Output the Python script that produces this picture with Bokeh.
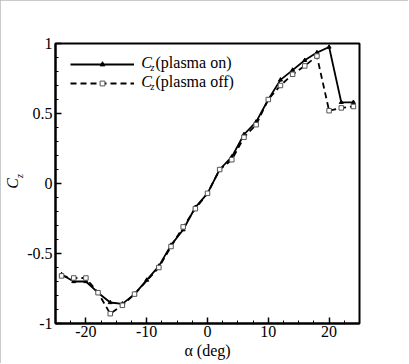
import numpy as np
from bokeh.plotting import figure
from bokeh.models import Legend, LegendItem, Label, FixedTicker, Range1d, LinearAxis
from bokeh.embed import file_html
from bokeh.resources import INLINE

# ---- data ----
alpha_on = [-24, -22, -20, -18, -16, -14, -12, -10, -8, -6, -4, -2, 0, 2, 4, 6, 8, 10, 12, 14, 16, 18, 20, 22, 24]
cz_on = [-0.65, -0.70, -0.70, -0.78, -0.85, -0.86, -0.79, -0.69, -0.59, -0.44, -0.33, -0.17, -0.07,
         0.10, 0.19, 0.35, 0.44, 0.60, 0.74, 0.81, 0.88, 0.935, 0.975, 0.58, 0.58]
alpha_off = [-24, -22, -20, -18, -16, -14, -12, -8, -6, -4, -2, 0, 2, 4, 6, 8, 10, 12, 14, 16, 18, 20, 22, 24]
cz_off = [-0.66, -0.675, -0.675, -0.78, -0.93, -0.87, -0.79, -0.60, -0.45, -0.31, -0.18, -0.07,
          0.10, 0.17, 0.33, 0.42, 0.60, 0.70, 0.78, 0.84, 0.91, 0.52, 0.54, 0.55]

x_ticks = [-20, -10, 0, 10, 20]
x_tick_labels = ["-20", "-10", "0", "10", "20"]
y_ticks = [-1, -0.5, 0, 0.5, 1]
y_tick_labels = ["-1", "-0.5", "0", "0.5", "1"]
legend_names = ["(plasma on)", "(plasma off)"]

FONT = "Liberation Serif"

p = figure(width=408, height=363, output_backend="svg", toolbar_location=None,
           x_range=Range1d(-25, 25), y_range=Range1d(-1, 1), y_axis_location=None,
           min_border_left=55, min_border_right=49, min_border_top=43, min_border_bottom=40)
p.styles = {"outline": "2px solid #b8b8b8", "outline-offset": "-2px"}
p.grid.visible = False
p.outline_line_color = "black"
p.outline_line_width = 2
p.outline_line_alpha = 1
p.background_fill_color = "white"
p.border_fill_color = "white"

r_on = p.line(alpha_on, cz_on, line_color="black", line_width=1.8)
m_on = p.scatter(alpha_on, cz_on, marker="triangle", size=4, fill_color="black", line_color="black")
r_off = p.line(alpha_off, cz_off, line_color="black", line_width=1.8, line_dash="6 4")
m_off = p.scatter(alpha_off, cz_off, marker="square", size=4.5, fill_color="white", line_color="#555555")

# left axes: main axis (ticks + subscript "z"), outer axis carrying "C"
yax = LinearAxis(ticker=FixedTicker(ticks=y_ticks, minor_ticks=list(np.round(np.arange(-1, 1.001, 0.1), 2))),
                 major_label_overrides={t: s for t, s in zip(y_ticks, y_tick_labels)})
p.add_layout(yax, "left")
cax = LinearAxis(ticker=FixedTicker(ticks=[]), major_label_text_font_size="0px",
                 axis_line_color=None, major_tick_line_color=None, minor_tick_line_color=None)
p.add_layout(cax, "left")

xax = p.xaxis[0]
xax.ticker = FixedTicker(ticks=x_ticks, minor_ticks=list(np.arange(-25, 25.01, 2.5)))
xax.major_label_overrides = {t: s for t, s in zip(x_ticks, x_tick_labels)}
for ax in (xax, yax):
    ax.axis_line_width = 2
    ax.axis_line_color = "black"
    ax.major_tick_in = 6
    ax.major_tick_out = 0
    ax.minor_tick_in = 3
    ax.minor_tick_out = 0
    ax.major_tick_line_width = 1.5
    ax.major_tick_line_color = "black"
    ax.minor_tick_line_color = "black"
    ax.major_label_text_font = FONT
    ax.major_label_text_font_size = "16px"
    ax.major_label_text_color = "black"
xax.major_label_standoff = 2
yax.major_label_standoff = 3
xax.axis_label = "\u03b1 (deg)"
xax.axis_label_text_font = FONT
xax.axis_label_text_font_size = "16px"
xax.axis_label_text_font_style = "normal"
xax.axis_label_text_color = "black"
xax.axis_label_standoff = 2

# y-axis label C_z
yax.axis_label = "\u00a0" * 6 + "z"
yax.axis_label_text_font = FONT
yax.axis_label_text_font_size = "10px"
yax.axis_label_text_font_style = "italic"
yax.axis_label_text_color = "black"
yax.axis_label_standoff = -1
cax.axis_label = "C"
cax.axis_label_text_font = FONT
cax.axis_label_text_font_size = "16px"
cax.axis_label_text_font_style = "italic"
cax.axis_label_text_color = "black"
cax.axis_label_standoff = -9

# legend
legend = Legend(items=[LegendItem(label=" ", renderers=[r_on, m_on]),
                       LegendItem(label=" ", renderers=[r_off, m_off])],
                location="top_left", margin=15, padding=13, spacing=7,
                glyph_width=64, glyph_height=12, label_height=12, label_width=1,
                label_text_font_size="1px", border_line_color=None, background_fill_alpha=0)
p.add_layout(legend)
for yy, name in zip([0.864, 0.729], legend_names):
    p.add_layout(Label(x=-10.9, y=yy, text="C", text_font=FONT, text_font_size="16px",
                       text_font_style="italic", text_align="left", text_baseline="middle",
                       text_color="black"))
    p.add_layout(Label(x=-9.38, y=yy - 0.035, text="z", text_font=FONT, text_font_size="10px",
                       text_font_style="italic", text_align="left", text_baseline="middle",
                       text_color="black"))
    p.add_layout(Label(x=-8.55, y=yy, text=name, text_font=FONT, text_font_size="16px",
                       text_align="left", text_baseline="middle", text_color="black"))

open("out.html", "w").write(file_html(p, INLINE))
